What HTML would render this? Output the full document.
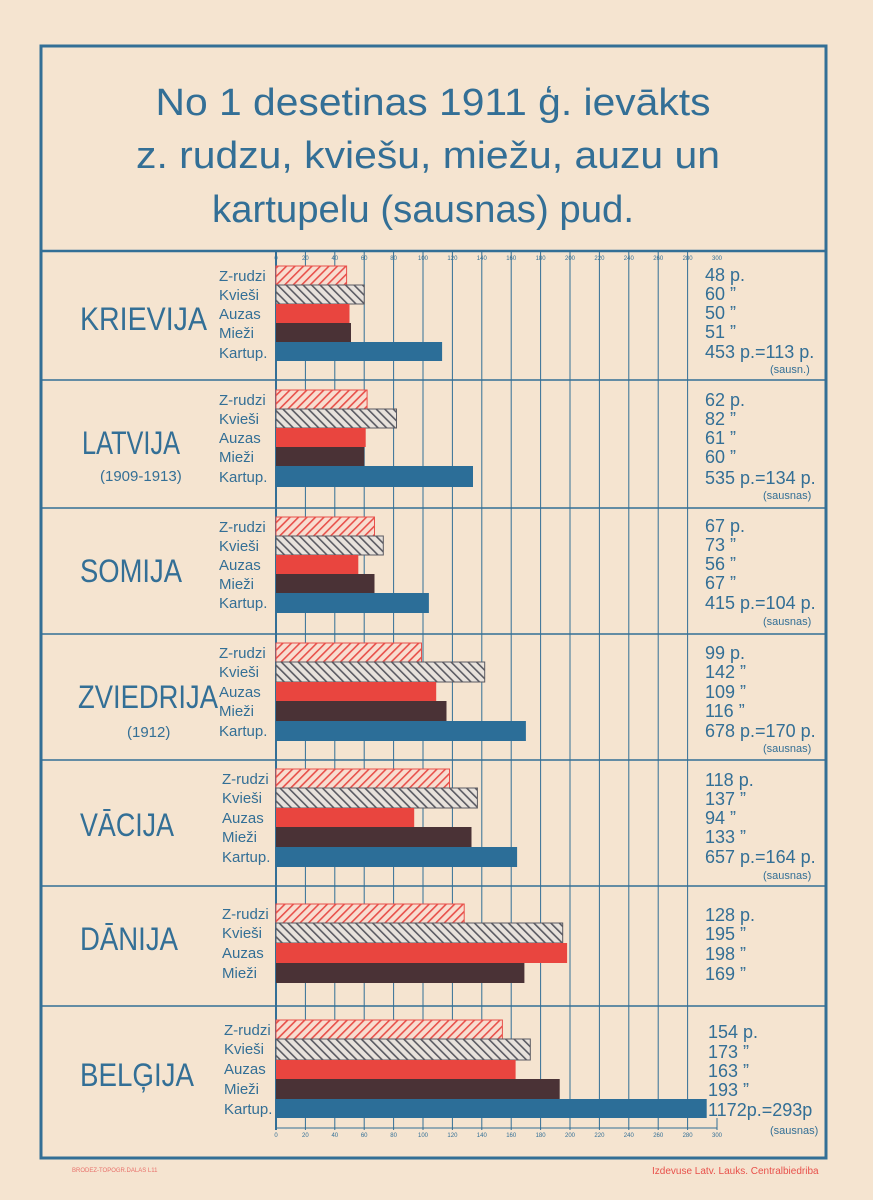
<!DOCTYPE html>
<html><head><meta charset="utf-8"><style>
html,body{margin:0;padding:0;background:#f5e4d0;}
svg{display:block}
text{font-family:"Liberation Sans",sans-serif;fill:#336f96}
</style></head><body>
<svg width="873" height="1200" viewBox="0 0 873 1200" xmlns="http://www.w3.org/2000/svg">
<defs>
<pattern id="pr" patternUnits="userSpaceOnUse" width="6" height="6" patternTransform="rotate(45)">
<rect width="6" height="6" fill="#f8ddd0"/><rect width="1.6" height="6" fill="#e8504a"/></pattern>
<pattern id="pg" patternUnits="userSpaceOnUse" width="6" height="6" patternTransform="rotate(-45)">
<rect width="6" height="6" fill="#e8e2dc"/><rect width="1.6" height="6" fill="#5a5a62"/></pattern>
</defs>
<rect width="873" height="1200" fill="#f5e4d0"/>
<rect x="41" y="46" width="785" height="1112" fill="none" stroke="#336f96" stroke-width="3"/>
<line x1="41" y1="251" x2="826" y2="251" stroke="#336f96" stroke-width="2.5"/>
<g font-size="38" text-anchor="middle">
<text x="433" y="115" textLength="555" lengthAdjust="spacingAndGlyphs">No 1 desetinas 1911 ģ. ievākts</text>
<text x="428" y="168" textLength="584" lengthAdjust="spacingAndGlyphs">z. rudzu, kviešu, miežu, auzu un</text>
<text x="423" y="222" textLength="422" lengthAdjust="spacingAndGlyphs">kartupelu (sausnas) pud.</text>
</g>
<!-- section lines -->
<g stroke="#336f96" stroke-width="1.5">
<line x1="41" y1="380" x2="826" y2="380"/><line x1="41" y1="508" x2="826" y2="508"/>
<line x1="41" y1="634" x2="826" y2="634"/><line x1="41" y1="760" x2="826" y2="760"/>
<line x1="41" y1="886" x2="826" y2="886"/><line x1="41" y1="1006" x2="826" y2="1006"/>
</g>
<!-- grid -->
<g stroke="#336f96" stroke-width="1">
<line x1="276" y1="252" x2="276" y2="1130" stroke-width="2"/>
<line x1="305.4" y1="252" x2="305.4" y2="1130"/><line x1="334.8" y1="252" x2="334.8" y2="1130"/>
<line x1="364.2" y1="252" x2="364.2" y2="1130"/><line x1="393.6" y1="252" x2="393.6" y2="1130"/>
<line x1="423" y1="252" x2="423" y2="1130"/><line x1="452.4" y1="252" x2="452.4" y2="1130"/>
<line x1="481.8" y1="252" x2="481.8" y2="1130"/><line x1="511.2" y1="252" x2="511.2" y2="1130"/>
<line x1="540.6" y1="252" x2="540.6" y2="1130"/><line x1="570" y1="252" x2="570" y2="1130"/>
<line x1="599.4" y1="252" x2="599.4" y2="1130"/><line x1="628.8" y1="252" x2="628.8" y2="1130"/>
<line x1="658.2" y1="252" x2="658.2" y2="1130"/><line x1="687.6" y1="252" x2="687.6" y2="1130"/>
<line x1="717" y1="1118" x2="717" y2="1130"/>
<line x1="276" y1="1128" x2="717" y2="1128"/>
</g>
<g font-size="6" text-anchor="middle">
<text x="276" y="260">0</text><text x="305.4" y="260">20</text><text x="334.8" y="260">40</text><text x="364.2" y="260">60</text><text x="393.6" y="260">80</text><text x="423" y="260">100</text><text x="452.4" y="260">120</text><text x="481.8" y="260">140</text><text x="511.2" y="260">160</text><text x="540.6" y="260">180</text><text x="570" y="260">200</text><text x="599.4" y="260">220</text><text x="628.8" y="260">240</text><text x="658.2" y="260">260</text><text x="687.6" y="260">280</text><text x="717" y="260">300</text>
<text x="276" y="1137">0</text><text x="305.4" y="1137">20</text><text x="334.8" y="1137">40</text><text x="364.2" y="1137">60</text><text x="393.6" y="1137">80</text><text x="423" y="1137">100</text><text x="452.4" y="1137">120</text><text x="481.8" y="1137">140</text><text x="511.2" y="1137">160</text><text x="540.6" y="1137">180</text><text x="570" y="1137">200</text><text x="599.4" y="1137">220</text><text x="628.8" y="1137">240</text><text x="658.2" y="1137">260</text><text x="687.6" y="1137">280</text><text x="717" y="1137">300</text>
</g>
<!-- bars: helper colors -->
<g>
<!-- Krievija 266 -->
<rect x="276" y="266" width="70.6" height="19" fill="url(#pr)" stroke="#e8504a"/>
<rect x="276" y="285" width="88.2" height="19" fill="url(#pg)" stroke="#5a5a62"/>
<rect x="276" y="304" width="73.5" height="19" fill="#e9453f"/>
<rect x="276" y="323" width="75" height="19" fill="#4a3236"/>
<rect x="276" y="342" width="166.1" height="19" fill="#2c6e98"/>
<!-- Latvija 390 -->
<rect x="276" y="390" width="91.1" height="19" fill="url(#pr)" stroke="#e8504a"/>
<rect x="276" y="409" width="120.5" height="19" fill="url(#pg)" stroke="#5a5a62"/>
<rect x="276" y="428" width="89.7" height="19" fill="#e9453f"/>
<rect x="276" y="447" width="88.2" height="19" fill="#4a3236"/>
<rect x="276" y="466" width="197" height="21" fill="#2c6e98"/>
<!-- Somija 517 -->
<rect x="276" y="517" width="98.5" height="19" fill="url(#pr)" stroke="#e8504a"/>
<rect x="276" y="536" width="107.3" height="19" fill="url(#pg)" stroke="#5a5a62"/>
<rect x="276" y="555" width="82.3" height="19" fill="#e9453f"/>
<rect x="276" y="574" width="98.5" height="19" fill="#4a3236"/>
<rect x="276" y="593" width="152.9" height="20" fill="#2c6e98"/>
<!-- Zviedrija 643 -->
<rect x="276" y="643" width="145.5" height="19" fill="url(#pr)" stroke="#e8504a"/>
<rect x="276" y="662" width="208.7" height="20" fill="url(#pg)" stroke="#5a5a62"/>
<rect x="276" y="682" width="160.2" height="19" fill="#e9453f"/>
<rect x="276" y="701" width="170.5" height="20" fill="#4a3236"/>
<rect x="276" y="721" width="249.9" height="20" fill="#2c6e98"/>
<!-- Vacija 769 -->
<rect x="276" y="769" width="173.5" height="19" fill="url(#pr)" stroke="#e8504a"/>
<rect x="276" y="788" width="201.4" height="20" fill="url(#pg)" stroke="#5a5a62"/>
<rect x="276" y="808" width="138.2" height="19" fill="#e9453f"/>
<rect x="276" y="827" width="195.5" height="20" fill="#4a3236"/>
<rect x="276" y="847" width="241.1" height="20" fill="#2c6e98"/>
<!-- Danija 904 -->
<rect x="276" y="904" width="188.2" height="19" fill="url(#pr)" stroke="#e8504a"/>
<rect x="276" y="923" width="286.7" height="20" fill="url(#pg)" stroke="#5a5a62"/>
<rect x="276" y="943" width="291.1" height="20" fill="#e9453f"/>
<rect x="276" y="963" width="248.4" height="20" fill="#4a3236"/>
<!-- Belgija 1020 -->
<rect x="276" y="1020" width="226.4" height="19" fill="url(#pr)" stroke="#e8504a"/>
<rect x="276" y="1039" width="254.3" height="21" fill="url(#pg)" stroke="#5a5a62"/>
<rect x="276" y="1060" width="239.6" height="19" fill="#e9453f"/>
<rect x="276" y="1079" width="283.7" height="20" fill="#4a3236"/>
<rect x="276" y="1099" width="430.7" height="19" fill="#2c6e98"/>
</g>
<!-- crop labels -->
<g font-size="15">
<text x="219" y="281">Z-rudzi</text><text x="219" y="300">Kvieši</text><text x="219" y="319">Auzas</text><text x="219" y="338">Mieži</text><text x="219" y="358">Kartup.</text>
<text x="219" y="405">Z-rudzi</text><text x="219" y="424">Kvieši</text><text x="219" y="443">Auzas</text><text x="219" y="462">Mieži</text><text x="219" y="482">Kartup.</text>
<text x="219" y="532">Z-rudzi</text><text x="219" y="551">Kvieši</text><text x="219" y="570">Auzas</text><text x="219" y="589">Mieži</text><text x="219" y="608">Kartup.</text>
<text x="219" y="658">Z-rudzi</text><text x="219" y="677">Kvieši</text><text x="219" y="697">Auzas</text><text x="219" y="716">Mieži</text><text x="219" y="736">Kartup.</text>
<text x="222" y="784">Z-rudzi</text><text x="222" y="803">Kvieši</text><text x="222" y="823">Auzas</text><text x="222" y="842">Mieži</text><text x="222" y="862">Kartup.</text>
<text x="222" y="919">Z-rudzi</text><text x="222" y="938">Kvieši</text><text x="222" y="958">Auzas</text><text x="222" y="978">Mieži</text>
<text x="224" y="1035">Z-rudzi</text><text x="224" y="1054">Kvieši</text><text x="224" y="1074">Auzas</text><text x="224" y="1094">Mieži</text><text x="224" y="1114">Kartup.</text>
</g>
<!-- country names -->
<g font-size="32">
<text x="80" y="330" textLength="127" lengthAdjust="spacingAndGlyphs">KRIEVIJA</text>
<text x="82" y="454" textLength="98" lengthAdjust="spacingAndGlyphs">LATVIJA</text>
<text x="80" y="582" textLength="102" lengthAdjust="spacingAndGlyphs">SOMIJA</text>
<text x="78" y="708" textLength="140" lengthAdjust="spacingAndGlyphs">ZVIEDRIJA</text>
<text x="80" y="836" textLength="94" lengthAdjust="spacingAndGlyphs">VĀCIJA</text>
<text x="80" y="950" textLength="98" lengthAdjust="spacingAndGlyphs">DĀNIJA</text>
<text x="80" y="1086" textLength="114" lengthAdjust="spacingAndGlyphs">BELĢIJA</text>
</g>
<g font-size="15">
<text x="100" y="481">(1909-1913)</text>
<text x="127" y="737">(1912)</text>
</g>
<!-- values -->
<g font-size="18">
<text x="705" y="281">48 p.</text><text x="705" y="300">60 ”</text><text x="705" y="319">50 ”</text><text x="705" y="338">51 ”</text><text x="705" y="358">453 p.=113 p.</text>
<text x="705" y="406">62 p.</text><text x="705" y="425">82 ”</text><text x="705" y="444">61 ”</text><text x="705" y="463">60 ”</text><text x="705" y="484">535 p.=134 p.</text>
<text x="705" y="532">67 p.</text><text x="705" y="551">73 ”</text><text x="705" y="570">56 ”</text><text x="705" y="589">67 ”</text><text x="705" y="609">415 p.=104 p.</text>
<text x="705" y="659">99 p.</text><text x="705" y="678">142 ”</text><text x="705" y="698">109 ”</text><text x="705" y="717">116 ”</text><text x="705" y="737">678 p.=170 p.</text>
<text x="705" y="786">118 p.</text><text x="705" y="805">137 ”</text><text x="705" y="824">94 ”</text><text x="705" y="843">133 ”</text><text x="705" y="863">657 p.=164 p.</text>
<text x="705" y="921">128 p.</text><text x="705" y="940">195 ”</text><text x="705" y="960">198 ”</text><text x="705" y="980">169 ”</text>
<text x="708" y="1038">154 p.</text><text x="708" y="1058">173 ”</text><text x="708" y="1077">163 ”</text><text x="708" y="1096">193 ”</text><text x="708" y="1116">1172p.=293p</text>
</g>
<g font-size="11">
<text x="770" y="373">(sausn.)</text>
<text x="763" y="499">(sausnas)</text>
<text x="763" y="625">(sausnas)</text>
<text x="763" y="752">(sausnas)</text>
<text x="763" y="879">(sausnas)</text>
<text x="770" y="1134">(sausnas)</text>
</g>
<text x="72" y="1172" font-size="6" style="fill:#e8706a">BRODEZ-TOPOGR.DALAS L11</text>
<text x="652" y="1174" font-size="10" style="fill:#e8504a">Izdevuse  Latv.  Lauks.  Centralbiedriba</text>
</svg>
</body></html>
